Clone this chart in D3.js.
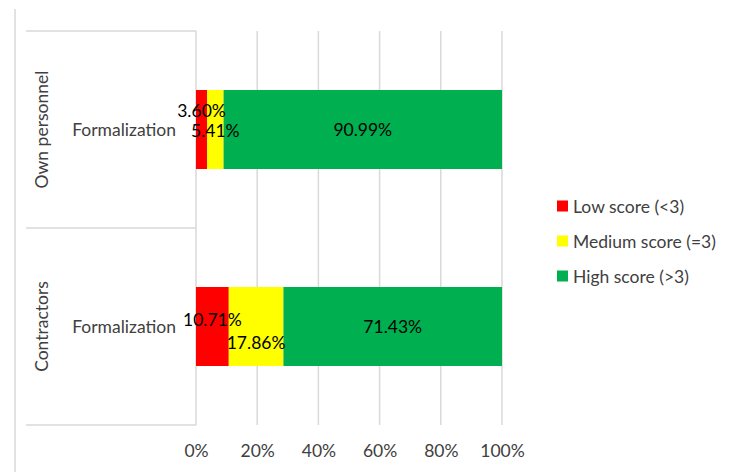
<!DOCTYPE html>
<html><head><meta charset="utf-8">
<script src="https://cdn.jsdelivr.net/npm/d3@7"></script>
<style>body{margin:0;background:#fff}svg{display:block}</style>
</head><body>
<svg id="chart" width="729" height="472"></svg>
<script>
const groups = ["Own personnel", "Contractors"];
const categories = ["Formalization", "Formalization"];
const seriesNames = ["Low score (<3)", "Medium score (=3)", "High score (>3)"];
const lowValues = [3.60, 10.71];
const mediumValues = [5.41, 17.86];
const highValues = [90.99, 71.43];
const tickValues = [0, 20, 40, 60, 80, 100];
const colors = ["#FF0000", "#FFFF00", "#00B050"];

const svg = d3.select("#chart");
const font = "Lato, 'Open Sans', sans-serif";
const fs = 17.5;
const grid = "#D9D9D9";
const textCol = "#404040";

const x = d3.scaleLinear().domain([0, 100]).range([196, 502]);
const y = d3.scaleBand().domain(groups).range([31, 425]);
const barH = 79;

// gridlines
svg.append("g").selectAll("line").data(tickValues).join("line")
  .attr("x1", d => x(d)).attr("x2", d => x(d))
  .attr("y1", 31).attr("y2", 425)
  .attr("stroke", grid).attr("stroke-width", 1.5);

// category box lines
svg.append("line").attr("x1", 15).attr("x2", 15).attr("y1", 9).attr("y2", 472)
  .attr("stroke", grid).attr("stroke-width", 1.5);
const bounds = [y.range()[0], y(groups[1]), y.range()[1]];
svg.append("g").selectAll("line").data(bounds).join("line")
  .attr("x1", 26).attr("x2", x(0)).attr("y1", d => d).attr("y2", d => d)
  .attr("stroke", grid).attr("stroke-width", 1.5);

// stacked data
const rows = groups.map((g, i) => ({group: g, cat: categories[i], low: lowValues[i], medium: mediumValues[i], high: highValues[i]}));
const stack = d3.stack().keys(["low", "medium", "high"])(rows);

const layers = svg.append("g").selectAll("g").data(stack).join("g")
  .attr("fill", (d, i) => colors[i]);
layers.selectAll("rect").data(d => d).join("rect")
  .attr("x", d => x(d[0])).attr("width", d => x(d[1]) - x(d[0]))
  .attr("y", d => y(d.data.group) + y.bandwidth() / 2 - barH / 2)
  .attr("height", barH);

// label vertical offsets (collision avoidance, as in the reference)
const labelDy = [[-19, -7], [1, 16], [0, 0]];
stack.forEach((layer, si) => {
  svg.append("g").selectAll("text").data(layer).join("text")
    .attr("x", d => (x(d[0]) + x(d[1])) / 2)
    .attr("y", (d, i) => y(d.data.group) + y.bandwidth() / 2 + labelDy[si][i])
    .attr("text-anchor", "middle").attr("dominant-baseline", "central")
    .attr("font-family", font).attr("font-size", fs).attr("fill", "#000")
    .text(d => (d[1] - d[0]).toFixed(2) + "%");
});

// category labels
svg.append("g").selectAll("text").data(rows).join("text")
  .attr("x", 176).attr("y", d => y(d.group) + y.bandwidth() / 2)
  .attr("text-anchor", "end").attr("dominant-baseline", "central")
  .attr("font-family", font).attr("font-size", fs).attr("fill", textCol)
  .text(d => d.cat);

// group labels rotated
svg.append("g").selectAll("text").data(groups).join("text")
  .attr("transform", d => `translate(41,${y(d) + y.bandwidth() / 2}) rotate(-90)`)
  .attr("text-anchor", "middle").attr("dominant-baseline", "central")
  .attr("font-family", font).attr("font-size", fs).attr("fill", textCol)
  .text(d => d);

// x axis
const axis = svg.append("g").attr("transform", "translate(0,450)")
  .call(d3.axisBottom(x).tickValues(tickValues).tickSize(0).tickFormat(d => d + "%"));
axis.select(".domain").remove();
axis.selectAll("text").attr("font-family", font).attr("font-size", fs)
  .attr("fill", textCol).attr("dy", null).attr("y", 0).attr("dominant-baseline", "central");

// legend
const leg = svg.append("g").selectAll("g").data(seriesNames).join("g")
  .attr("transform", (d, i) => `translate(557,${206 + i * 35})`);
leg.append("rect").attr("x", 0).attr("y", -5.5).attr("width", 11).attr("height", 11)
  .attr("fill", (d, i) => colors[i]);
leg.append("text").attr("x", 16).attr("y", 0).attr("dominant-baseline", "central")
  .attr("font-family", font).attr("font-size", fs).attr("fill", textCol)
  .text(d => d);
</script>
</body></html>
